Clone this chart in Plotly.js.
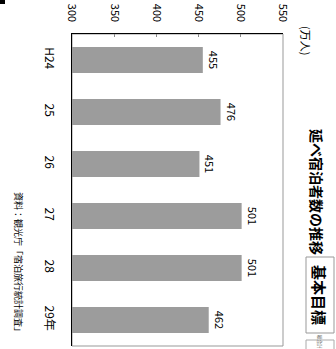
<!DOCTYPE html>
<html><head><meta charset="utf-8">
<script src="https://cdn.plot.ly/plotly-3.0.1.min.js"></script>
<style>html,body{margin:0;padding:0;background:#fff;}#c{width:336px;height:349px;}</style>
</head><body><div id="c"></div>
<script>
const categories = ['H24', '25', '26', '27', '28', '29年'];
const values = [455, 476, 451, 501, 501, 462];
const valueTicks = [300, 350, 400, 450, 500, 550];
const titleText = '延べ宿泊者数の推移';
const unitText = '(万人)';
const sourceText = '資料：観光庁「宿泊旅行統計調査」';
const badgeText = '基本目標';
const smallBadgeText = '総合計画';

const F = 'Liberation Sans Narrow, Noto Sans CJK JP, sans-serif';
const J = 'Noto Sans CJK JP, sans-serif';
// pixel -> paper helpers (plot area: x 72..283, y 34..346)
const px = v => (v - 72) / 211;
const py = v => (346 - v) / 312;

const trace = {
  type: 'bar', orientation: 'h',
  x: values, y: categories,
  marker: {color: '#9c9c9c', line: {width: 0}},
  text: values.map(String), textposition: 'outside', textangle: 90,
  textfont: {family: F, size: 11, color: '#000'},
  cliponaxis: false, hoverinfo: 'none'
};

const layout = {
  width: 336, height: 349,
  margin: {l: 72, r: 53, t: 34, b: 3, pad: 0},
  paper_bgcolor: '#fff', plot_bgcolor: '#fff',
  showlegend: false, bargap: 0.5,
  xaxis: {
    side: 'top', range: [300, 550], tickvals: valueTicks,
    tickangle: 90, ticks: 'inside', ticklen: 3, tickcolor: '#888',
    showgrid: false, zeroline: false, showline: true, linecolor: '#000', linewidth: 1,
    tickfont: {family: F, size: 11, color: '#000'}, ticklabelstandoff: 7
  },
  yaxis: {
    type: 'category', autorange: 'reversed',
    tickangle: 90, ticks: 'outside', ticklen: 11, tickcolor: 'rgba(0,0,0,0)',
    showgrid: false, zeroline: false, showline: true, linecolor: '#000', linewidth: 1.5,
    tickfont: {family: F, size: 12, color: '#000'}
  },
  shapes: [
    {type: 'rect', xref: 'paper', yref: 'paper', x0: 0, x1: 1, y0: 0, y1: 1,
     line: {color: '#999', width: 1}, layer: 'below'},
    {type: 'rect', xref: 'paper', yref: 'paper', x0: px(306), x1: px(334), y0: py(333), y1: py(257),
     line: {color: '#999', width: 1}},
    {type: 'rect', xref: 'paper', yref: 'paper', x0: px(306), x1: px(334), y0: py(353), y1: py(340),
     line: {color: '#aaa', width: 1}},
    {type: 'rect', xref: 'paper', yref: 'paper', x0: px(0), x1: px(5), y0: py(4), y1: py(0),
     line: {width: 0}, fillcolor: '#000'}
  ],
  annotations: [
    {xref: 'paper', yref: 'paper', x: px(317), y: py(192), text: '<b>' + titleText + '</b>',
     textangle: 90, showarrow: false, xanchor: 'center', yanchor: 'middle',
     font: {family: J, size: 14, color: '#000'}},
    {xref: 'paper', yref: 'paper', x: px(320), y: py(295), text: '<b>' + badgeText + '</b>',
     textangle: 90, showarrow: false, xanchor: 'center', yanchor: 'middle',
     font: {family: J, size: 15, color: '#000'}},
    {xref: 'paper', yref: 'paper', x: px(320), y: py(344), text: smallBadgeText,
     textangle: 90, showarrow: false, xanchor: 'center', yanchor: 'middle',
     font: {family: J, size: 4.5, color: '#555'}},
    {xref: 'paper', yref: 'paper', x: px(306), y: py(40), text: unitText,
     textangle: 90, showarrow: false, xanchor: 'center', yanchor: 'middle',
     font: {family: J, size: 11, color: '#000'}},
    {xref: 'paper', yref: 'paper', x: px(19), y: py(264), text: sourceText,
     textangle: 90, showarrow: false, xanchor: 'center', yanchor: 'middle',
     font: {family: J, size: 9, color: '#000'}}
  ]
};

Plotly.newPlot('c', [trace], layout, {staticPlot: true, displayModeBar: false});
</script></body></html>
